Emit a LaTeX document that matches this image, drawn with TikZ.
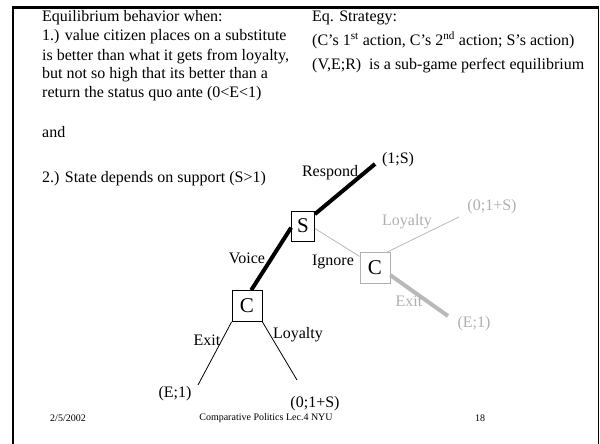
\documentclass[tikz,border=0pt]{standalone}
\usepackage{fontspec}
\setmainfont{Liberation Serif}
\definecolor{lgray}{RGB}{175,175,175}
\definecolor{lline}{RGB}{185,185,185}
\begin{document}
\begin{tikzpicture}[x=1pt,y=-1pt,
  txt/.style={font=\fontsize{16}{19}\selectfont, inner sep=0pt, anchor=base west},
  lbl/.style={font=\fontsize{16}{19}\selectfont, inner sep=0pt},
  glbl/.style={lbl, text=lgray},
  foot/.style={font=\fontsize{10}{12}\selectfont, inner sep=0pt},
  box/.style={draw, line width=0.8pt, inner sep=0pt, font=\fontsize{21}{24}\selectfont},
  thickline/.style={line width=4pt},
  thinline/.style={line width=0.8pt},
  frameline/.style={line width=2.2pt}]
\useasboundingbox (0,0) rectangle (600,444);
% frame
\coordinate (fbl) at (13,444);
\coordinate (ftl) at (13,7.5);
\coordinate (ftr) at (598.5,7.5);
\coordinate (fbr) at (598.5,444);
\draw[frameline] (fbl) -- (ftl) -- (ftr);
\draw[line width=1.2pt] (ftr) -- (fbr);
% left text
\node[txt] (t1) at (42,22) {Equilibrium behavior when:};
\node[txt] (t2) at (42,41) {1.) value citizen places on a substitute};
\node[txt] (t3) at (42,60) {is better than what it gets from loyalty,};
\node[txt] (t4) at (42,79) {but not so high that its better than a};
\node[txt] (t5) at (42,98) {return the status quo ante (0<E<1)};
\node[txt] (t6) at (42,137) {and};
\node[txt] (t7) at (42,182) {2.) State depends on support (S>1)};
% right text
\node[txt] (r1) at (312,22) {Eq. Strategy:};
\node[txt] (r2) at (312,46) {(C’s 1\textsuperscript{st} action, C’s 2\textsuperscript{nd} action; S’s action)};
\node[txt] (r3) at (312,70) {(V,E;R)\ \ is a sub-game perfect equilibrium};
% boxes
\node[box, minimum width=23pt, minimum height=30pt] (bS) at (303,226) {S};
\node[box, minimum width=30pt, minimum height=31pt] (bC1) at (247,306) {C};
\node[box, draw=lgray, minimum width=30pt, minimum height=31pt] (bC2) at (375,268) {C};
% payoffs
\node[lbl] (p1) at (398,160) {(1;S)};
\node[glbl] (p2) at (492,207) {(0;1+S)};
\node[glbl] (p3) at (474,324) {(E;1)};
\node[lbl] (p4) at (175,394) {(E;1)};
\node[lbl] (p5) at (315,404) {(0;1+S)};
\coordinate (e1) at (375,164);
\coordinate (e2) at (459,217);
\coordinate (e3) at (448,316);
\coordinate (e4) at (198,385);
\coordinate (e5) at (297,380);
% connectors
\draw[thickline] (bC1.75) -- (bS.188);
\draw[thickline] (bS.45) -- (e1);
\draw[thinline, draw=lline] (bS.-12) -- (bC2.143);
\draw[thinline, draw=lline] (bC2.53) -- (e2);
\draw[thickline, draw=lline] (bC2.-25) -- (e3);
\draw[thinline] (bC1.south west) -- (e4);
\draw[thinline] (bC1.south east) -- (e5);
% action labels
\node[lbl] (lv) at (247,258) {Voice};
\node[lbl] (lr) at (330,173) {Respond};
\node[lbl] (li) at (333,262) {Ignore};
\node[glbl] (lgl) at (407,222) {Loyalty};
\node[glbl] (lge) at (409,301) {Exit};
\node[lbl] (le) at (207,340) {Exit};
\node[lbl] (ll) at (298,335) {Loyalty};
% footer
\node[foot] (f1) at (68,418) {2/5/2002};
\node[foot] (f2) at (266,418) {Comparative Politics Lec.4 NYU};
\node[foot] (f3) at (480,418) {18};
\end{tikzpicture}
\end{document}
